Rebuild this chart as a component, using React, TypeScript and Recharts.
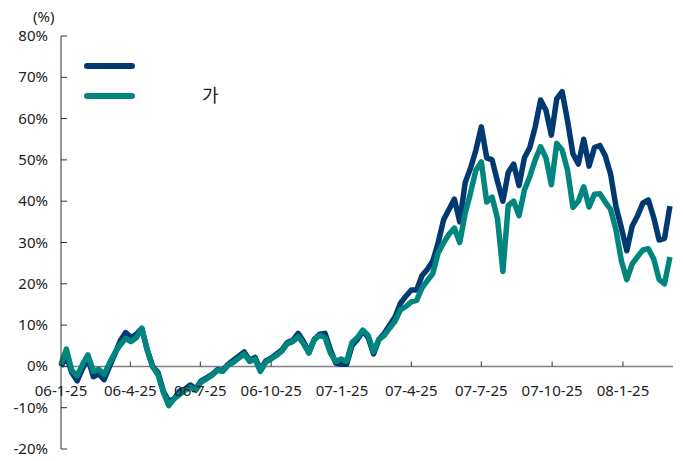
import { Line, LineChart, ReferenceLine, XAxis, YAxis } from "recharts"

// weekly returns (%), starting 06-1-25
const navy = [
  0, 2.5, -1.5, -3.5, -0.5, 2, -2.5, -1.8, -3.2, 0,
  3, 6.2, 8.2, 7, 7.8, 9.2, 4, 0, -1.5, -6,
  -8.5, -7.8, -6, -5.5, -4.5, -5.5, -3.5, -2.8, -2, -0.8,
  -1, 0.5, 1.5, 2.5, 3.5, 1.5, 2.2, -0.8, 1.3, 2,
  3, 4, 5.8, 6.3, 8, 6, 3.5, 6.5, 7.8, 8,
  4, 0.8, 0.5, 0.5, 5, 6.5, 8.5, 7, 3, 6.5,
  8, 10, 12, 15.3, 17, 18.5, 18.5, 22, 23.5, 25.5,
  30, 35.5, 38, 40.5, 35, 44.5, 48, 52.4, 58, 50.5,
  50, 44.8, 40, 47, 49, 43.8, 50.5, 53, 58, 64.5,
  62, 56, 64.8, 66.5, 59.5, 51.5, 49, 55, 48.5, 53,
  53.5, 51, 46.5, 38.6, 33.5, 28, 34, 36.5, 39.6, 40.3,
  36, 30.6, 31, 38.8,
]

const teal = [
  0.5, 4.2, -1, -2.3, 0.5, 2.8, -1.2, -0.7, -2, 0.8,
  3.3, 5.2, 6.8, 6, 7, 9.2, 4, 0, -2, -6.3,
  -9.5, -7.8, -6.8, -5.8, -5, -5.8, -3.8, -3, -2.2, -1,
  -1.2, 0.3, 1, 2, 3, 1.2, 1.8, -1.2, 1, 1.8,
  2.7, 3.7, 5.5, 6, 7.2, 5.5, 3.2, 6.5, 7.5, 7,
  3.2, 1.2, 1.8, 1.2, 5.8, 7, 8.8, 7.5, 3.5, 6.5,
  7.5, 9.3, 11, 13.7, 14.5, 15.6, 16, 19, 20.8, 22.5,
  27.5, 29.9, 32, 33.5, 30, 37, 42, 47.5, 49.5, 39.8,
  41, 35.8, 23, 39, 40, 36.5, 42.7, 46, 50, 53.2,
  50.5, 44, 54, 52.4, 47.5, 38.5, 40, 43.5, 38.6, 41.7,
  41.8, 39.8, 38, 33, 25.5, 21, 24.8, 26.6, 28.2, 28.5,
  26, 21, 20, 26.5,
]

const tickDays = [0, 90, 181, 273, 365, 455, 546, 638, 730]
const tickLabels = ["06-1-25", "06-4-25", "06-7-25", "06-10-25", "07-1-25", "07-4-25", "07-7-25", "07-10-25", "08-1-25"]
const yTicks = [-20, -10, 0, 10, 20, 30, 40, 50, 60, 70, 80]

const series = [
  { key: "navy", name: "", color: "#003a70" },
  { key: "teal", name: "가", color: "#00857f" },
]

const data = navy.map((v, i) => ({ day: i * 7, navy: v, teal: teal[i] }))

const W = 675
const H = 453
const MARGIN = { top: 28, right: 10, bottom: 11, left: 0 }
const X_AXIS_H = 1
const Y_MIN = -20
const Y_MAX = 80
const PLOT_H = H - MARGIN.top - MARGIN.bottom - X_AXIS_H
const ZERO_Y = MARGIN.top + (PLOT_H * Y_MAX) / (Y_MAX - Y_MIN)
const FONT = "'Noto Sans', 'Noto Sans CJK KR', sans-serif"

function XTick(props: any) {
  const { x, payload } = props
  const idx = tickDays.indexOf(payload.value)
  return (
    <g>
      {idx > 0 && <line x1={x} x2={x} y1={ZERO_Y} y2={ZERO_Y - 5} stroke="#333" strokeWidth={1} />}
      <text x={x} y={ZERO_Y + 30} textAnchor="middle" fontSize={15} fill="#222" fontFamily={FONT}>
        {tickLabels[idx]}
      </text>
    </g>
  )
}

function YTick(props: any) {
  const { x, y, payload } = props
  return (
    <g>
      <line x1={x} x2={x + 6} y1={y} y2={y} stroke="#333" strokeWidth={1} />
      <text x={x - 13} y={y + 5} textAnchor="end" fontSize={15} fill="#222" fontFamily={FONT}>
        {`${payload.value}%`}
      </text>
    </g>
  )
}

export default function App() {
  return (
    <div style={{ position: "relative", width: W, height: H, fontFamily: FONT }}>
      <LineChart width={W} height={H} data={data} margin={MARGIN}>
        <XAxis
          dataKey="day"
          type="number"
          domain={[0, 795]}
          ticks={tickDays}
          height={X_AXIS_H}
          axisLine={false}
          tickLine={false}
          tickSize={0}
          tickMargin={0}
          tick={XTick}
          interval={0}
        />
        <YAxis
          domain={[Y_MIN, Y_MAX]}
          ticks={yTicks}
          width={53}
          tickSize={0}
          tickMargin={0}
          tickLine={false}
          axisLine={{ stroke: "#333", strokeWidth: 1 }}
          tick={YTick}
          interval={0}
        />
        <ReferenceLine y={0} stroke="#808080" strokeWidth={1.5} />
        {series.map((s) => (
          <Line
            key={s.key}
            dataKey={s.key}
            name={s.name}
            stroke={s.color}
            strokeWidth={5.5}
            dot={false}
            strokeLinejoin="round"
            isAnimationActive={false}
          />
        ))}
      </LineChart>
      <div style={{ position: "absolute", left: 25, top: -2, fontSize: 15, color: "#222" }}>(%)</div>
      {series.map((s, i) => (
        <div key={s.key} style={{ position: "absolute", left: 76, top: 55 + i * 30, height: 6, width: 300 }}>
          <div style={{ position: "absolute", left: 0, top: 0, width: 51, height: 6, borderRadius: 3, background: s.color }} />
          <div style={{ position: "absolute", left: 118, top: -9, fontSize: 18, color: "#222", lineHeight: "22px" }}>{s.name}</div>
        </div>
      ))}
    </div>
  )
}
